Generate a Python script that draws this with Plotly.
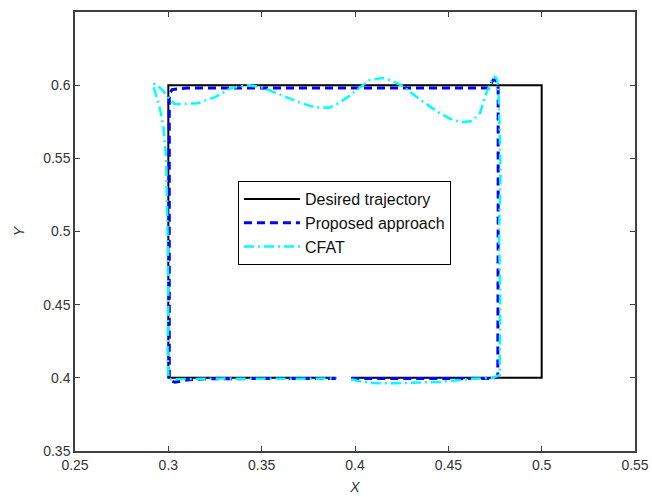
import plotly.graph_objects as go

# Desired trajectory
des_x = [0.398, 0.5, 0.5, 0.3, 0.3, 0.39]
des_y = [0.4, 0.4, 0.6, 0.6, 0.4, 0.4]

# Proposed approach
prop_x = [0.398, 0.42, 0.45, 0.474, 0.4765, 0.4767, 0.4767, 0.4767, 0.4767, 0.4767, 0.4762, 0.4752, 0.474, 0.4728, 0.4715,
          0.46, 0.43, 0.40, 0.37, 0.34, 0.31, 0.302, 0.3005, 0.3005, 0.3005, 0.3005, 0.3005, 0.3005, 0.3015, 0.3035,
          0.31, 0.32, 0.35, 0.39]
prop_y = [0.3995, 0.3995, 0.3995, 0.3995, 0.401, 0.45, 0.5, 0.55, 0.59, 0.598, 0.6015, 0.6035, 0.6035, 0.601, 0.598,
          0.598, 0.598, 0.598, 0.598, 0.598, 0.598, 0.597, 0.594, 0.55, 0.5, 0.45, 0.41, 0.4005, 0.3978, 0.397,
          0.3986, 0.3993, 0.3995, 0.3995]

# CFAT
cfat_x = [0.398, 0.403, 0.41, 0.418, 0.43, 0.445, 0.463, 0.474, 0.4775, 0.4778, 0.4772, 0.478, 0.4775, 0.477,
          0.4768, 0.4762, 0.4752, 0.474, 0.4732, 0.4715, 0.4696, 0.467, 0.4625, 0.457, 0.451, 0.444, 0.435,
          0.4254, 0.419, 0.4146, 0.4076, 0.3968, 0.391, 0.386, 0.378, 0.3714, 0.3606, 0.3498, 0.343, 0.3336,
          0.325, 0.3158, 0.3067, 0.3034, 0.3005, 0.297, 0.2935, 0.2918, 0.2925, 0.2945, 0.296, 0.2975,
          0.2988, 0.2996, 0.3, 0.2996, 0.3, 0.3, 0.3015, 0.31, 0.33, 0.35, 0.37, 0.39]
cfat_y = [0.399, 0.3975, 0.3965, 0.3962, 0.3966, 0.3972, 0.3993, 0.4, 0.402, 0.45, 0.5, 0.54, 0.57, 0.588,
          0.598, 0.6035, 0.6055, 0.6055, 0.6035, 0.598, 0.592, 0.581, 0.5755, 0.5747, 0.577, 0.582, 0.59,
          0.5995, 0.6035, 0.6048, 0.6034, 0.5925, 0.5875, 0.5845, 0.585, 0.5877, 0.5932, 0.5986, 0.6, 0.598,
          0.5918, 0.5877, 0.587, 0.5872, 0.5905, 0.5965, 0.6005, 0.601, 0.597, 0.589, 0.581, 0.57,
          0.55, 0.5, 0.45, 0.42, 0.402, 0.3995, 0.399, 0.3992, 0.3995, 0.3993, 0.3996, 0.3995]

fig = go.Figure()
fig.add_trace(go.Scatter(x=des_x, y=des_y, mode="lines", name="Desired trajectory",
                         line=dict(color="black", width=2)))
fig.add_trace(go.Scatter(x=prop_x, y=prop_y, mode="lines", name="Proposed approach",
                         line=dict(color="#0000FF", width=3, dash="8px,5px")))
fig.add_trace(go.Scatter(x=cfat_x, y=cfat_y, mode="lines", name="CFAT",
                         line=dict(color="#00FFFF", width=2.5, dash="10px,4px,2px,4px")))

axis_common = dict(
    showgrid=False, zeroline=False, showline=True, linecolor="#404040", linewidth=1.5,
    mirror="allticks", ticks="inside", ticklen=5, tickcolor="#404040", tickwidth=1,
    tickfont=dict(family="Liberation Sans, Arial", size=14, color="#333333"),
    automargin=False,
)

fig.update_layout(
    width=652, height=497,
    margin=dict(l=75, r=17, t=12, b=46),
    paper_bgcolor="white", plot_bgcolor="white",
    xaxis=dict(range=[0.25, 0.55], tickvals=[0.25, 0.3, 0.35, 0.4, 0.45, 0.5, 0.55],
               ticktext=["0.25", "0.3", "0.35", "0.4", "0.45", "0.5", "0.55"],
               title=dict(text="<i>X</i>", standoff=11,
                          font=dict(family="Liberation Sans, Arial", size=14, color="#333333")),
               **axis_common),
    yaxis=dict(range=[0.35, 0.65], tickvals=[0.35, 0.4, 0.45, 0.5, 0.55, 0.6],
               ticktext=["0.35", "0.4", "0.45", "0.5", "0.55", "0.6"],
               title=dict(text="<i>Y</i>", standoff=15,
                          font=dict(family="Liberation Sans, Arial", size=14, color="#333333")),
               **axis_common),
    showlegend=True,
    legend=dict(x=0.291, y=0.615, xanchor="left", yanchor="top",
                bgcolor="white", bordercolor="black", borderwidth=1,
                font=dict(family="Liberation Sans, Arial", size=16, color="#111111"),
                itemwidth=56, tracegroupgap=0),
)

fig.write_html("out.html")
